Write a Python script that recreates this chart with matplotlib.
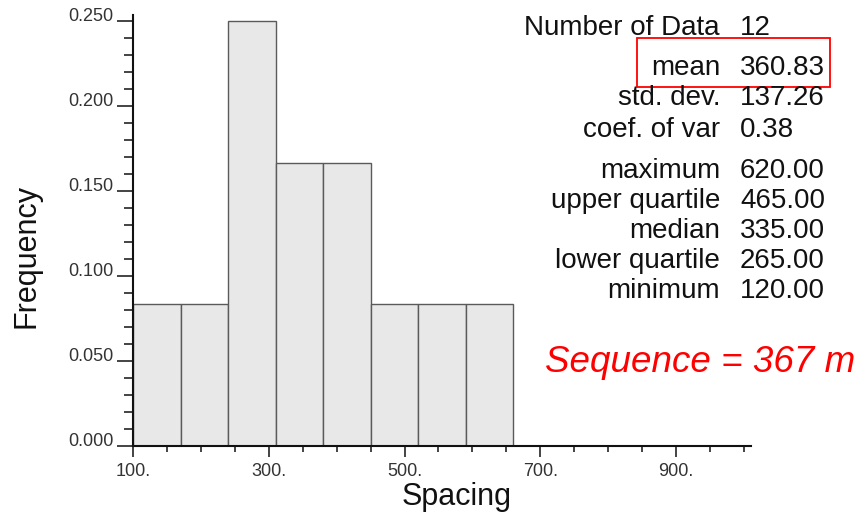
import matplotlib
matplotlib.use("Agg")
import matplotlib.pyplot as plt
from matplotlib.patches import Rectangle
from matplotlib.ticker import MultipleLocator, FixedLocator

plt.rcParams['font.family'] = ['Liberation Sans', 'DejaVu Sans']

# ---- data ----
bin_edges = [100, 170, 240, 310, 380, 450, 520, 590, 660]
counts = [1, 1, 3, 2, 2, 1, 1, 1]
n_data = 12
x_ticks = [100, 300, 500, 700, 900]
x_tick_labels = ["100.", "300.", "500.", "700.", "900."]
y_ticks = [0.0, 0.05, 0.10, 0.15, 0.20, 0.25]
y_tick_labels = ["0.000", "0.050", "0.100", "0.150", "0.200", "0.250"]
stat_names = ["Number of Data", "mean", "std. dev.", "coef. of var",
              "maximum", "upper quartile", "median", "lower quartile", "minimum"]
stat_values = ["12", "360.83", "137.26", "0.38",
               "620.00", "465.00", "335.00", "265.00", "120.00"]
annotation = "Sequence = 367 m"

W, H = 857, 515
fig = plt.figure(figsize=(W / 100, H / 100), dpi=100)
ax = fig.add_axes([133.3 / W, 69 / H, (751 - 133.3) / W, 431 / H])

freqs = [c / n_data for c in counts]
lefts = bin_edges[:-1]
widths = [bin_edges[i + 1] - bin_edges[i] for i in range(len(counts))]
ax.bar(lefts, freqs, width=widths, align='edge', color='#e8e8e8',
       edgecolor='#5a5a5a', linewidth=1.0, zorder=2)

ax.set_xlim(100, 1011)
ax.set_ylim(0, 0.2535)

for s in ['top', 'right']:
    ax.spines[s].set_visible(False)
for s in ['left', 'bottom']:
    ax.spines[s].set_linewidth(1.5)
    ax.spines[s].set_color('#111111')
    ax.spines[s].set_zorder(3)

ax.xaxis.set_major_locator(FixedLocator(x_ticks))
ax.set_xticklabels(x_tick_labels)
ax.xaxis.set_minor_locator(MultipleLocator(50))
ax.yaxis.set_major_locator(FixedLocator(y_ticks))
ax.set_yticklabels(y_tick_labels)
ax.yaxis.set_minor_locator(MultipleLocator(0.01))

ax.tick_params(axis='x', which='major', direction='out', length=8, width=1.1,
               color='#111111', labelsize=13, labelcolor='#333333', pad=4)
ax.tick_params(axis='x', which='minor', direction='out', length=4.3, width=1.1,
               color='#111111')
ax.tick_params(axis='y', which='major', direction='out', length=11.5, width=1.1,
               color='#111111', labelsize=13, labelcolor='#333333', pad=2.5)
ax.tick_params(axis='y', which='minor', direction='out', length=6.5, width=1.1,
               color='#111111')
for lab in ax.get_yticklabels():
    lab.set_verticalalignment('baseline')


def fx(px):
    return px / W


def fy(py):
    return 1 - py / H


fig.text(fx(27), fy(256), "Frequency", rotation=90, fontsize=22,
         ha='center', va='center', color='#111111')
fig.text(fx(457), fy(505), "Spacing", fontsize=22, ha='center',
         va='baseline', color='#111111')

baselines = [35, 75, 105, 137, 178, 208, 238, 268, 298]
for name, val, b in zip(stat_names, stat_values, baselines):
    fig.text(fx(720), fy(b), name, fontsize=20, ha='right', va='baseline',
             color='#111111')
    fig.text(fx(740), fy(b), val, fontsize=20, ha='left', va='baseline',
             color='#111111')

fig.patches.append(Rectangle((fx(637), fy(87)), fx(830) - fx(637),
                             fy(38) - fy(87), transform=fig.transFigure,
                             fill=False, edgecolor='#ff0000', linewidth=1.3))

fig.text(fx(545), fy(372), annotation, fontsize=26.5, style='italic',
         color='#ff0000', ha='left', va='baseline')

fig.savefig("out.png", dpi=100)
